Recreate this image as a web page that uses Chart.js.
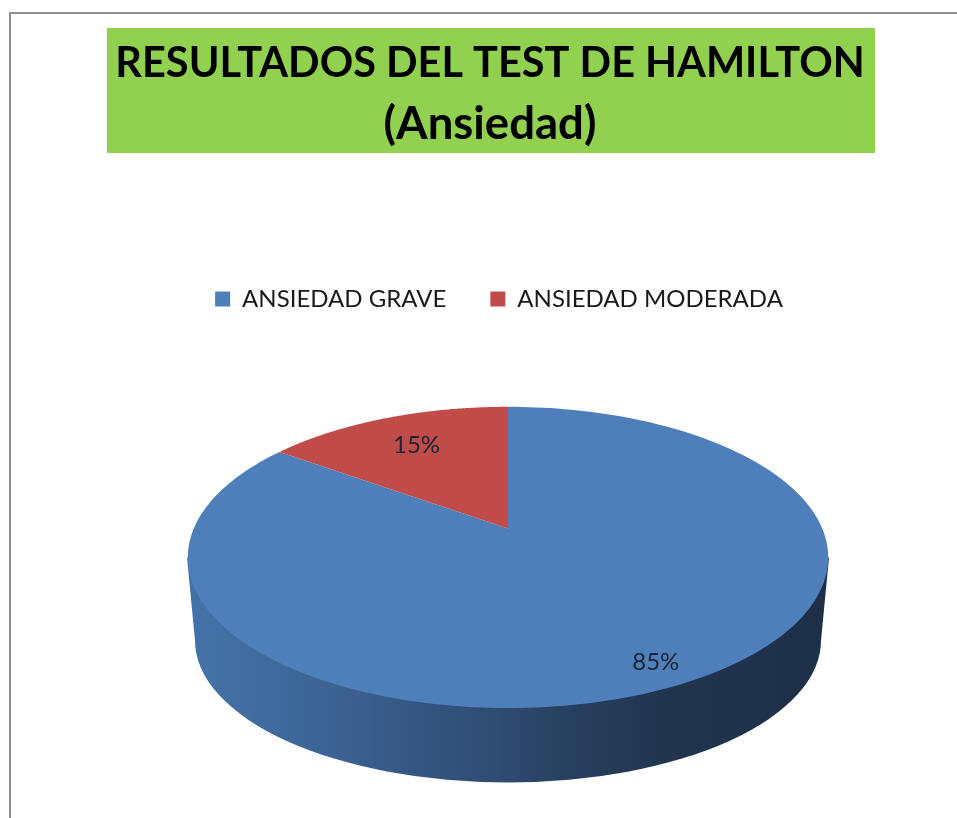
<!DOCTYPE html>
<html>
<head>
<meta charset="utf-8">
<style>
html,body{margin:0;padding:0;background:#fff;overflow:hidden}
#wrap{position:absolute;left:0;top:0;width:957px;height:818px}
</style>
<script src="https://cdn.jsdelivr.net/npm/chart.js@4"></script>
</head>
<body>
<div id="wrap"><canvas id="pie"></canvas></div>
<script>
const categories=['ANSIEDAD GRAVE','ANSIEDAD MODERADA'];
const percentages=[85,15];
const sliceColors=['#4f7fbb','#bf4c49'];
const titleLine='RESULTADOS DEL TEST DE HAMILTON';
const subtitleLine='(Ansiedad)';
const labelDepth=[.88,.72];

// the pie is seen in perspective, so the apex sits above the middle of the ellipse
const widen=315/208, squash=.4616, lean=.192;
function project(arc,r,angle){
  const u=r*Math.sin(angle+Math.PI/2), v=-r*Math.cos(angle+Math.PI/2);
  const a=arc.outerRadius*widen, w=1-lean*v;
  return {x:arc.x+a*u/w, y:arc.y+a*squash*v/w};
}

Chart.ArcElement.prototype.draw=function(ctx){
  ctx.save();
  ctx.fillStyle=this.options.backgroundColor;
  ctx.beginPath();
  ctx.moveTo(this.x,this.y);
  for(let i=0;i<=200;i++){
    const p=project(this,1,this.startAngle+(this.endAngle-this.startAngle)*i/200);
    ctx.lineTo(p.x,p.y);
  }
  ctx.closePath();
  ctx.fill();
  ctx.restore();
};

const frame={
  id:'frame',
  afterLayout(chart){
    chart.boxes.forEach(b=>{
      const text=b.options&&b.options.text;
      if(text===titleLine||text===subtitleLine){b.left-=18;b.right-=18;}
    });
    chart.legend.left-=9; chart.legend.right-=9;
  },
  beforeDraw(chart){
    const c=chart.ctx;
    c.save();
    c.fillStyle='#fff'; c.fillRect(0,0,957,818);
    c.fillStyle='#8e8e8e';
    c.fillRect(9,12,948,2);
    c.fillRect(9,12,2,806);
    c.fillStyle='#92d050';
    c.fillRect(107,28,768,125);
    c.restore();
  },
  beforeDatasetsDraw(chart){
    const arc=chart.getDatasetMeta(0).data[0], c=chart.ctx;
    const x=arc.x, y=arc.y;
    const g=c.createLinearGradient(x-313,0,x+313,0);
    g.addColorStop(0,'#4472a8');
    g.addColorStop(.17,'#3e6799');
    g.addColorStop(.37,'#345580');
    g.addColorStop(.5,'#2e4a6e');
    g.addColorStop(.62,'#263e5c');
    g.addColorStop(.75,'#21354f');
    g.addColorStop(1,'#1e3048');
    c.save();
    c.fillStyle=g;
    c.beginPath();
    c.moveTo(x-321,y+29);
    c.lineTo(x-313,y+112);
    c.ellipse(x,y+112,313,142,0,Math.PI,0,true);
    c.lineTo(x+321,y+29);
    c.closePath();
    c.fill();
    c.restore();
  },
  afterDatasetsDraw(chart){
    const arcs=chart.getDatasetMeta(0).data, c=chart.ctx;
    c.save();
    c.font='24px Lato';
    c.fillStyle='#1b2430';
    c.textAlign='center';
    c.textBaseline='middle';
    arcs.forEach((arc,i)=>{
      const p=project(arc,labelDepth[i],(arc.startAngle+arc.endAngle)/2);
      c.fillText(percentages[i]+'%',p.x,p.y);
    });
    c.restore();
  }
};

new Chart(document.getElementById('pie'),{
  type:'pie',
  data:{labels:categories,datasets:[{data:percentages,backgroundColor:sliceColors,borderWidth:0}]},
  options:{
    responsive:true,maintainAspectRatio:false,animation:false,
    layout:{padding:{left:59,right:0,top:34,bottom:82}},
    plugins:{
      title:{display:true,text:titleLine,color:'#000',font:{family:'Lato',size:41.5,weight:'bold',lineHeight:60/41.5},padding:0},
      subtitle:{display:true,text:subtitleLine,color:'#000',font:{family:'Lato',size:45.5,weight:'bold',lineHeight:60/45.5},padding:{top:0,bottom:89}},
      legend:{position:'top',labels:{color:'#1a1a1a',font:{family:'Lato',size:24},boxWidth:15,boxHeight:15,padding:44}},
      tooltip:{enabled:false}
    }
  },
  plugins:[frame]
});
</script>
</body>
</html>
